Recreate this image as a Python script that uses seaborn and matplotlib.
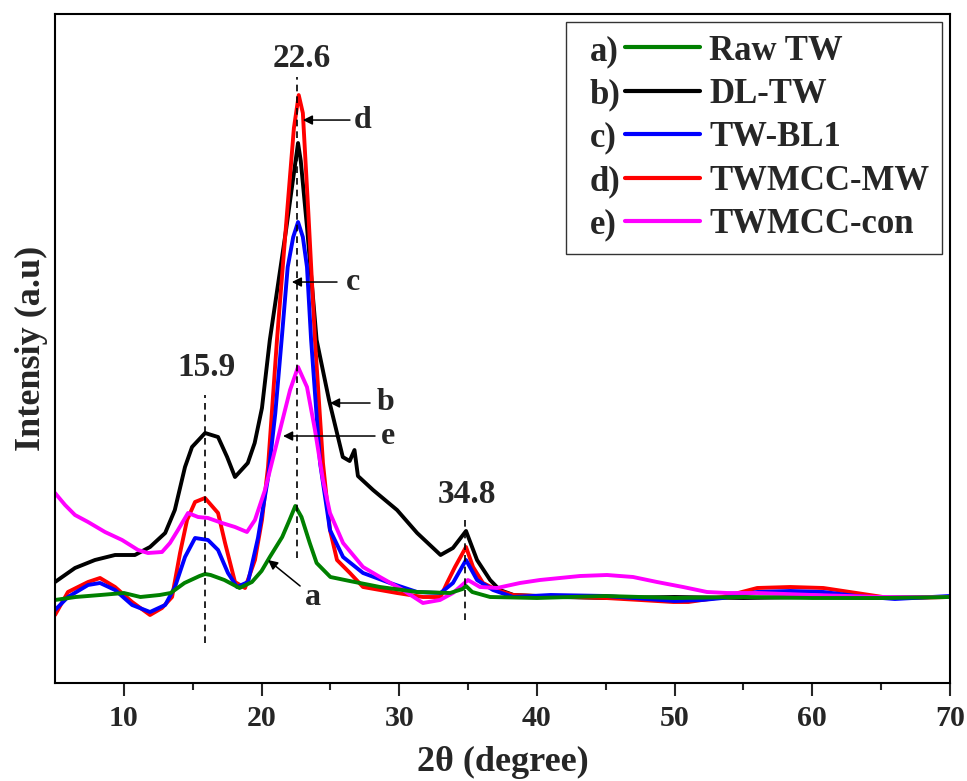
import matplotlib
matplotlib.use("Agg")
import matplotlib.pyplot as plt
import seaborn as sns
import pandas as pd
from matplotlib.lines import Line2D
from matplotlib.text import Text
from matplotlib.legend_handler import HandlerLine2D

# ---------------- data ----------------
raw_x = [5, 6.5, 8.3, 10, 11.2, 12.6, 13.4, 14.4, 15.5, 15.9, 16.3, 17.3, 18.4, 19.3, 20.0, 20.6, 21.5, 22.0,
         22.45, 22.9, 23.5, 24.0, 25.0, 26.4, 28.6, 31.3, 33.7, 34.6, 34.85, 35.3, 36.6, 40, 45, 50, 55, 60, 65, 70]
raw_y = [83, 86, 88, 90, 86, 88, 90, 100, 107, 109, 108, 103, 95, 101, 112, 126, 146, 162,
         177, 166, 140, 120, 106, 102, 96, 91, 90, 94, 97, 91, 86, 85, 87, 85, 86, 85, 85, 86]

dl_x = [5.0, 6.45, 7.9, 9.36, 10.8, 11.9, 13.0, 13.7, 14.44, 14.95, 15.9, 16.84, 17.5, 18.07, 19.0, 19.5, 20.03,
        20.6, 21.8, 22.45, 22.65, 22.85, 23.3, 24.0, 24.9, 25.9, 26.4, 26.75, 27.0, 28.1, 29.84, 31.3, 33.0,
        33.9, 34.85, 35.65, 36.6, 37.3, 38.3, 41.7, 45, 50, 55, 60, 65, 70]
dl_y = [101, 115, 123, 128, 128, 136, 150, 173, 216, 236, 250, 246, 226, 206, 220, 240, 275,
        343, 455, 520, 540, 522, 456, 343, 283, 226, 222, 233, 207, 193, 173, 150, 128,
        135, 152, 123, 103, 93, 88, 86, 85, 86, 85, 86, 85, 86]

bl_x = [5.0, 5.94, 7.4, 8.27, 9.36, 10.6, 11.9, 13.0, 13.71, 14.44, 15.17, 16.11, 16.84, 17.56, 18.22, 19.02,
        19.74, 20.47, 21.0, 21.5, 21.9, 22.3, 22.65, 23.0, 23.3, 23.6, 24.25, 24.97, 25.92, 27.37, 29.33,
        31.29, 33.0, 33.9, 34.85, 35.65, 36.81, 38.26, 41, 45, 48, 50, 52, 53.5, 56, 58.4, 60.8, 63.2, 66, 70]
bl_y = [73, 86, 98, 100, 93, 78, 71, 78, 96, 126, 145, 143, 133, 110, 96, 101,
        145, 205, 270, 350, 416, 446, 461, 446, 416, 343, 220, 153, 126, 110, 100,
        91, 90, 100, 123, 103, 93, 86, 88, 87, 84, 82, 83, 85, 91, 92, 91, 87, 84, 87]

mw_x = [5.0, 5.94, 7.4, 8.27, 9.36, 10.6, 11.9, 12.77, 13.5, 14.08, 14.59, 15.17, 15.89, 16.84, 17.35, 18.07,
        18.8, 19.52, 20.03, 20.47, 21.12, 21.85, 22.35, 22.7, 23.0, 23.4, 23.88, 24.46, 24.97, 25.48, 26.42,
        27.37, 29.84, 31.72, 33.0, 33.47, 34.05, 34.85, 35.36, 36.08, 37.1, 38.26, 40, 42.6, 45, 47.5, 49.9,
        51, 53.5, 56, 58.4, 60.8, 63.2, 65.6, 70]
mw_y = [68, 91, 101, 105, 96, 81, 68, 75, 86, 130, 163, 181, 185, 170, 140, 101,
        95, 123, 163, 216, 343, 470, 555, 588, 570, 470, 343, 220, 153, 123, 110,
        96, 90, 86, 86, 100, 116, 136, 116, 100, 93, 88, 87, 86, 85, 83, 81,
        81, 86, 95, 96, 95, 90, 85, 86]

con_x = [5.0, 5.73, 6.45, 7.4, 8.63, 9.87, 11.03, 11.75, 12.77, 13.35, 13.93, 14.66, 15.39, 16.11, 17.13,
         18.07, 18.94, 19.52, 20.25, 20.98, 21.34, 22.07, 22.65, 23.3, 23.88, 24.46, 24.97, 25.92, 27.37, 28.6,
         30.27, 31.72, 32.96, 33.9, 34.99, 35.86, 37.1, 38.77, 40.22, 43.13, 45.09, 46.98, 48.72, 50.61, 52.35,
         53.8, 56, 60, 65, 70]
con_y = [190, 178, 168, 161, 151, 143, 133, 130, 131, 140, 153, 170, 166, 165, 160,
         156, 151, 163, 193, 233, 253, 293, 316, 296, 253, 203, 170, 140, 116, 106,
         93, 80, 83, 90, 103, 96, 95, 100, 103, 107, 108, 106, 101, 96, 91,
         90, 90, 88, 86, 86]

series_keys = ["a)", "b)", "c)", "d)", "e)"]
series_names = ["Raw TW", "DL-TW", "TW-BL1", "TWMCC-MW", "TWMCC-con"]
series_colors = ["#008000", "#000000", "#0000FF", "#FF0000", "#FF00FF"]
series_x = [raw_x, dl_x, bl_x, mw_x, con_x]
series_y = [raw_y, dl_y, bl_y, mw_y, con_y]

peak_pos = [15.9, 22.6, 34.8]
peak_labels = ["15.9", "22.6", "34.8"]

# ---------------- style ----------------
sns.set_theme(style="ticks")
FONT = ["Liberation Serif", "DejaVu Serif"]
plt.rcParams["font.family"] = FONT
plt.rcParams["font.weight"] = "bold"

fig = plt.figure(figsize=(9.67, 7.81), dpi=100)
ax = fig.add_axes([0.0569, 0.1255, 0.9255, 0.8565])

frames = []
for xs, ys, nm in zip(series_x, series_y, series_names):
    frames.append(pd.DataFrame({"x": xs, "y": ys, "sample": nm}))
df = pd.concat(frames, ignore_index=True)

palette = dict(zip(series_names, series_colors))
draw_order = ["DL-TW", "TWMCC-MW", "TW-BL1", "TWMCC-con", "Raw TW"]
for nm in draw_order:
    sub = df[df["sample"] == nm]
    sns.lineplot(data=sub, x="x", y="y", color=palette[nm], lw=2.8, ax=ax,
                 legend=False, sort=False, estimator=None)

ax.set_xlim(5, 70)
ax.set_ylim(0, 669)
ax.set_xticks([10, 20, 30, 40, 50, 60, 70])
ax.set_xticks([15, 25, 35, 45, 55, 65], minor=True)
ax.set_yticks([])
ax.tick_params(axis="x", which="major", direction="out", length=9, width=1.5,
               labelsize=21.5, pad=7, top=False)
ax.tick_params(axis="x", which="minor", direction="out", length=5, width=1.5, top=False)
for lab in ax.get_xticklabels():
    lab.set_fontweight("bold")
for sp in ax.spines.values():
    sp.set_visible(True)
    sp.set_linewidth(1.5)
    sp.set_color("black")

ax.set_xlabel("2θ (degree)", fontsize=26, fontweight="bold", labelpad=10)
ax.set_ylabel("Intensiy (a.u)", fontsize=26, fontweight="bold", labelpad=5)

# dashed reference lines and peak labels
ax.vlines(15.9, 40, 288, colors="black", linestyles=(0, (4, 3)), lw=1.2)
ax.vlines(22.6, 125, 606, colors="black", linestyles=(0, (4, 3)), lw=1.2)
ax.vlines(34.8, 63, 168, colors="black", linestyles=(0, (4, 3)), lw=1.2)
ax.text(16.0, 316, peak_labels[0], ha="center", va="center", fontsize=24, fontweight="bold")
ax.text(22.95, 625, peak_labels[1], ha="center", va="center", fontsize=24, fontweight="bold")
ax.text(34.95, 189, peak_labels[2], ha="center", va="center", fontsize=24, fontweight="bold")

# curve pointers
arrows = [("d", (23.0, 563), (26.42, 563), (27.37, 563)),
          ("c", (22.2, 401), (25.48, 401), (26.64, 401)),
          ("b", (24.97, 280), (27.88, 280), (28.97, 281)),
          ("e", (21.56, 247), (28.24, 247), (29.18, 247)),
          ("a", (20.47, 123), (22.8, 97), (23.74, 85))]
for letter, head, tail, txt in arrows:
    ax.annotate("", xy=head, xytext=tail,
                arrowprops=dict(arrowstyle="-|>", color="black", lw=1.1, mutation_scale=14,
                                shrinkA=0, shrinkB=0))
    ax.text(txt[0], txt[1], letter, ha="center", va="center", fontsize=23, fontweight="bold")


# legend with "a)" prefix before each line
class PrefixHandler(HandlerLine2D):
    def __init__(self, prefix, **kw):
        super().__init__(**kw)
        self.prefix = prefix

    def create_artists(self, legend, orig_handle, xdescent, ydescent, width, height, fontsize, trans):
        y = height / 2 - ydescent
        t = Text(-xdescent + width * 0.09, y, self.prefix, ha="left", va="center_baseline",
                 fontsize=fontsize, fontweight="bold", family=FONT, transform=trans)
        x0 = -xdescent + width * 0.38
        ln = Line2D([x0, -xdescent + width], [y, y], color=orig_handle.get_color(),
                    lw=orig_handle.get_linewidth(), solid_capstyle="round", transform=trans)
        return [t, ln]


handles = [Line2D([], [], color=c, lw=3) for c in series_colors]
leg = ax.legend(handles, series_names, loc="upper right", bbox_to_anchor=(0.991, 0.988),
                borderaxespad=0, handlelength=3.5, handletextpad=0.26,
                labelspacing=0.30, borderpad=0.36, fancybox=False, frameon=True,
                handler_map={h: PrefixHandler(k) for h, k in zip(handles, series_keys)},
                prop={"family": FONT, "weight": "bold", "size": 25})
leg.get_frame().set_edgecolor("black")
leg.get_frame().set_linewidth(1.0)

fig.savefig("out.png", dpi=100, facecolor="white")
